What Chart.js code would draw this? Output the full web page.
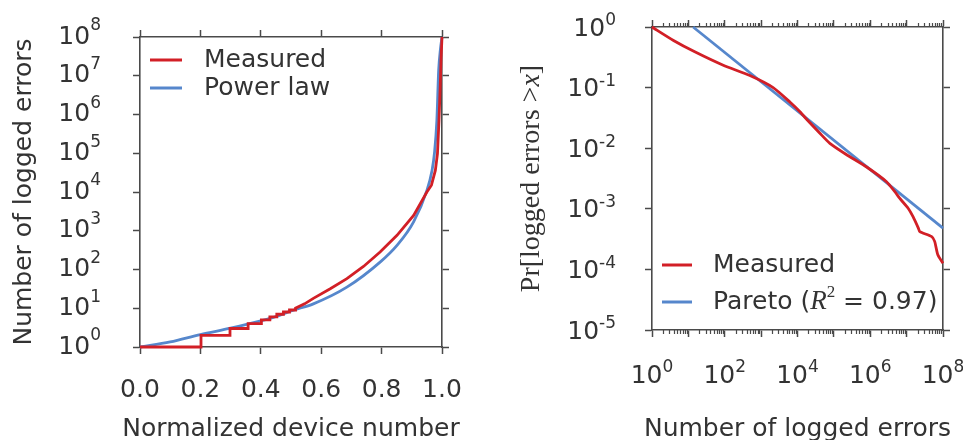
<!DOCTYPE html>
<html>
<head>
<meta charset="utf-8">
<script src="https://cdn.jsdelivr.net/npm/chart.js@4.4.1/dist/chart.umd.min.js"></script>
<style>
  html, body { margin: 0; padding: 0; background: #fff; }
  #wrap { position: relative; width: 963px; height: 440px; }
  #left { position: absolute; left: 0; top: 0; }
  #right { position: absolute; left: 480px; top: 0; }
</style>
</head>
<body>
<div id="wrap">
  <canvas id="left" width="480" height="440"></canvas>
  <canvas id="right" width="483" height="440"></canvas>
</div>
<script>
// Left panel: errors per device (sorted)
const leftMeasuredX = [0, 0.202, 0.202, 0.298, 0.298, 0.358, 0.358, 0.402, 0.402, 0.43, 0.43, 0.453, 0.453, 0.475, 0.475, 0.495, 0.495, 0.515, 0.515,
  0.545, 0.574, 0.63, 0.685, 0.74, 0.795, 0.851, 0.906, 0.95, 0.965, 0.978, 0.985, 0.99, 0.994, 0.997, 1.0];
const leftMeasuredY = [1, 1, 2, 2, 3, 3, 4, 4, 5, 5, 6, 6, 7, 7, 8, 8, 9, 9, 10,
  13, 18, 32, 58, 120, 283, 760, 2500, 10000, 15000, 36000, 98000, 700000, 5000000, 30000000, 100000000];
const leftPowerX = [0, 0.1, 0.2, 0.3, 0.4, 0.464, 0.5, 0.574, 0.685, 0.795, 0.851, 0.906, 0.95, 0.967, 0.975, 0.983, 0.989, 0.995, 1.0];
const leftPowerY = [1, 1.35, 2.1, 3.05, 4.7, 6.6, 8.5, 13, 35, 155, 420, 1700, 11000, 36000, 100000, 700000, 14000000, 50000000, 100000000];
const leftXTicks = [0, 0.2, 0.4, 0.6, 0.8, 1.0];
const leftXLabels = ['0.0', '0.2', '0.4', '0.6', '0.8', '1.0'];
const leftYExps = [0, 1, 2, 3, 4, 5, 6, 7, 8];

// Right panel: CCDF of logged errors
const rightMeasuredX = [1, 3.9, 15, 91, 490, 2140, 6170, 11700, 17800, 40000, 77600, 224000, 794000, 2800000, 4800000, 6500000,
  11000000, 15000000, 21000000, 23000000, 48000000, 59000000, 72000000, 100000000];
const rightMeasuredY = [1, 0.60, 0.39, 0.234, 0.158, 0.100, 0.058, 0.040, 0.030, 0.018, 0.012, 0.0078, 0.0049, 0.0028, 0.0019, 0.00148,
  0.00102, 0.00074, 0.00048, 0.00042, 0.00035, 0.00029, 0.000174, 0.000126];
const rightParetoX = [13.5, 100000000];
const rightParetoY = [1, 0.00048];
const rightXExps = [0, 1, 2, 3, 4, 5, 6, 7, 8];
const rightXLabelExps = [0, 2, 4, 6, 8];
const rightYExps = [0, -1, -2, -3, -4, -5];
const minorSteps = [2, 3, 4, 5, 6, 7, 8, 9];

const RED = '#d21f26';
const BLUE = '#5687cc';
const AXIS = '#4a4a4a';
const TEXT = '#333333';
const SANS = '"DejaVu Sans", Verdana, sans-serif';
const SERIF = '"Liberation Serif", "DejaVu Serif", serif';

const pts = (xs, ys) => xs.map((x, i) => ({ x: x, y: ys[i] }));

function drawPow(ctx, exp, x, y, align, raise) {
  const base = '10', sup = String(exp);
  ctx.font = '25px ' + SANS;
  const wb = ctx.measureText(base).width;
  ctx.font = '17px ' + SANS;
  const ws = ctx.measureText(sup).width;
  let x0 = align === 'right' ? x - wb - ws : x - (wb + ws) / 2;
  ctx.textAlign = 'left';
  ctx.textBaseline = 'middle';
  ctx.font = '25px ' + SANS;
  ctx.fillText(base, x0, y);
  ctx.font = '17px ' + SANS;
  ctx.fillText(sup, x0 + wb, y - raise);
}

function drawRuns(ctx, runs, x, y) {
  ctx.textAlign = 'left';
  ctx.textBaseline = 'middle';
  let cx = x;
  runs.forEach(r => {
    ctx.font = r.font;
    ctx.fillText(r.text, cx, y + (r.dy || 0));
    cx += ctx.measureText(r.text).width;
  });
  return cx;
}

function runsWidth(ctx, runs) {
  let w = 0;
  runs.forEach(r => { ctx.font = r.font; w += ctx.measureText(r.text).width; });
  return w;
}

function centeredText(ctx, text, x, y, rotate) {
  ctx.save();
  ctx.translate(x, y);
  if (rotate) ctx.rotate(-Math.PI / 2);
  ctx.font = '25px ' + SANS;
  ctx.textAlign = 'center';
  ctx.textBaseline = 'middle';
  ctx.fillText(text, 0, 0);
  ctx.restore();
}

function legendLine(ctx, x1, x2, y, color) {
  ctx.strokeStyle = color;
  ctx.lineWidth = 3;
  ctx.beginPath();
  ctx.moveTo(x1, y);
  ctx.lineTo(x2, y);
  ctx.stroke();
}

function frameAxis(pos, extra) {
  return Object.assign({
    position: pos,
    ticks: { display: false },
    grid: { drawOnChartArea: false, drawTicks: true, tickLength: 7, tickColor: AXIS, tickWidth: 1.5 },
    border: { display: true, color: AXIS, width: 1.6 }
  }, extra);
}

const logTicks = vals => s => { s.ticks = vals.map(v => ({ value: v, major: true })); };

// ---------- left chart ----------
const leftDecor = {
  id: 'leftDecor',
  afterDraw(chart) {
    const { ctx, chartArea: ca, scales } = chart;
    ctx.save();
    ctx.fillStyle = TEXT;
    leftYExps.forEach(e => drawPow(ctx, e, ca.left - 39, scales.y.getPixelForValue(Math.pow(10, e)), 'right', 11));
    ctx.font = '25px ' + SANS;
    ctx.textAlign = 'center';
    ctx.textBaseline = 'middle';
    leftXTicks.forEach((v, i) => ctx.fillText(leftXLabels[i], scales.x.getPixelForValue(v), 390));
    centeredText(ctx, 'Normalized device number', (ca.left + ca.right) / 2, 429, false);
    centeredText(ctx, 'Number of logged errors', 24, (ca.top + ca.bottom) / 2, true);
    legendLine(ctx, ca.left + 10, ca.left + 42, ca.top + 23, RED);
    legendLine(ctx, ca.left + 10, ca.left + 42, ca.top + 51, BLUE);
    ctx.fillStyle = TEXT;
    drawRuns(ctx, [{ text: 'Measured', font: '25px ' + SANS }], ca.left + 64, ca.top + 23);
    drawRuns(ctx, [{ text: 'Power law', font: '25px ' + SANS }], ca.left + 64, ca.top + 51);
    ctx.restore();
  }
};

new Chart(document.getElementById('left').getContext('2d'), {
  type: 'line',
  data: {
    datasets: [
      { label: 'Measured', data: pts(leftMeasuredX, leftMeasuredY), borderColor: RED, borderWidth: 2.8, pointRadius: 0, tension: 0, clip: 5 },
      { label: 'Power law', data: pts(leftPowerX, leftPowerY), borderColor: BLUE, borderWidth: 2.8, pointRadius: 0, tension: 0.3, cubicInterpolationMode: 'monotone', clip: 5 }
    ]
  },
  options: {
    responsive: false,
    animation: false,
    layout: { padding: 0 },
    plugins: { legend: { display: false }, tooltip: { enabled: false } },
    scales: {
      x: frameAxis('bottom', {
        type: 'linear', min: 0, max: 1,
        afterBuildTicks: s => { s.ticks = leftXTicks.map(v => ({ value: v })); },
        afterFit: s => { s.height = 93; }
      }),
      x2: frameAxis('top', {
        type: 'linear', min: 0, max: 1,
        afterBuildTicks: s => { s.ticks = leftXTicks.map(v => ({ value: v })); },
        afterFit: s => { s.height = 37; }
      }),
      y: frameAxis('left', {
        type: 'logarithmic', min: 1, max: 1e8,
        afterBuildTicks: logTicks(leftYExps.map(e => Math.pow(10, e))),
        afterFit: s => { s.width = 140; }
      }),
      y2: frameAxis('right', {
        type: 'logarithmic', min: 1, max: 1e8,
        afterBuildTicks: logTicks(leftYExps.map(e => Math.pow(10, e))),
        afterFit: s => { s.width = 38; }
      })
    }
  },
  plugins: [leftDecor]
});

// ---------- right chart ----------
const rightMajor = rightXExps.map(e => Math.pow(10, e));
const rightMinor = [];
rightXExps.slice(0, -1).forEach(e => minorSteps.forEach(m => rightMinor.push(m * Math.pow(10, e))));

const rightDecor = {
  id: 'rightDecor',
  afterDraw(chart) {
    const { ctx, chartArea: ca, scales } = chart;
    ctx.save();
    // minor ticks on log x axis
    ctx.strokeStyle = AXIS;
    ctx.lineWidth = 1.2;
    rightMinor.forEach(v => {
      const px = Math.round(scales.x.getPixelForValue(v)) + 0.5;
      ctx.beginPath();
      ctx.moveTo(px, ca.bottom); ctx.lineTo(px, ca.bottom + 4);
      ctx.moveTo(px, ca.top); ctx.lineTo(px, ca.top - 4);
      ctx.stroke();
    });
    ctx.fillStyle = TEXT;
    rightYExps.forEach(e => drawPow(ctx, e, ca.left - 36, scales.y.getPixelForValue(Math.pow(10, e)) + 2, 'right', 8));
    rightXLabelExps.forEach(e => drawPow(ctx, e, scales.x.getPixelForValue(Math.pow(10, e)), 376, 'center', 8));
    centeredText(ctx, 'Number of logged errors', (ca.left + ca.right) / 2, 429, false);

    // y title (serif, math style)
    const titleRuns = [
      { text: 'Pr[logged errors >', font: '28px ' + SERIF },
      { text: 'x', font: 'italic 28px ' + SERIF },
      { text: ']', font: '28px ' + SERIF }
    ];
    ctx.save();
    ctx.translate(52, (ca.top + ca.bottom) / 2);
    ctx.rotate(-Math.PI / 2);
    drawRuns(ctx, titleRuns, -runsWidth(ctx, titleRuns) / 2, 0);
    ctx.restore();

    // legend
    legendLine(ctx, ca.left + 10, ca.left + 40, ca.top + 238, RED);
    legendLine(ctx, ca.left + 10, ca.left + 40, ca.top + 275, BLUE);
    ctx.fillStyle = TEXT;
    drawRuns(ctx, [{ text: 'Measured', font: '25px ' + SANS }], ca.left + 61, ca.top + 238);
    drawRuns(ctx, [
      { text: 'Pareto (', font: '25px ' + SANS },
      { text: 'R', font: 'italic 27px ' + SERIF },
      { text: '2', font: '17px ' + SERIF, dy: -9 },
      { text: ' = 0.97)', font: '25px ' + SANS }
    ], ca.left + 61, ca.top + 275);
    ctx.restore();
  }
};

new Chart(document.getElementById('right').getContext('2d'), {
  type: 'line',
  data: {
    datasets: [
      { label: 'Measured', data: pts(rightMeasuredX, rightMeasuredY), borderColor: RED, borderWidth: 2.8, pointRadius: 0, tension: 0.2, clip: 5 },
      { label: 'Pareto', data: pts(rightParetoX, rightParetoY), borderColor: BLUE, borderWidth: 2.8, pointRadius: 0, clip: 5 }
    ]
  },
  options: {
    responsive: false,
    animation: false,
    layout: { padding: 0 },
    plugins: { legend: { display: false }, tooltip: { enabled: false } },
    scales: {
      x: frameAxis('bottom', {
        type: 'logarithmic', min: 1, max: 1e8,
        afterBuildTicks: logTicks(rightMajor),
        afterFit: s => { s.height = 110; }
      }),
      x2: frameAxis('top', {
        type: 'logarithmic', min: 1, max: 1e8,
        afterBuildTicks: logTicks(rightMajor),
        afterFit: s => { s.height = 27; }
      }),
      y: frameAxis('left', {
        type: 'logarithmic', min: 1e-5, max: 1,
        afterBuildTicks: logTicks(rightYExps.map(e => Math.pow(10, e))),
        afterFit: s => { s.width = 172; }
      }),
      y2: frameAxis('right', {
        type: 'logarithmic', min: 1e-5, max: 1,
        afterBuildTicks: logTicks(rightYExps.map(e => Math.pow(10, e))),
        afterFit: s => { s.width = 20; }
      })
    }
  },
  plugins: [rightDecor]
});
</script>
</body>
</html>
